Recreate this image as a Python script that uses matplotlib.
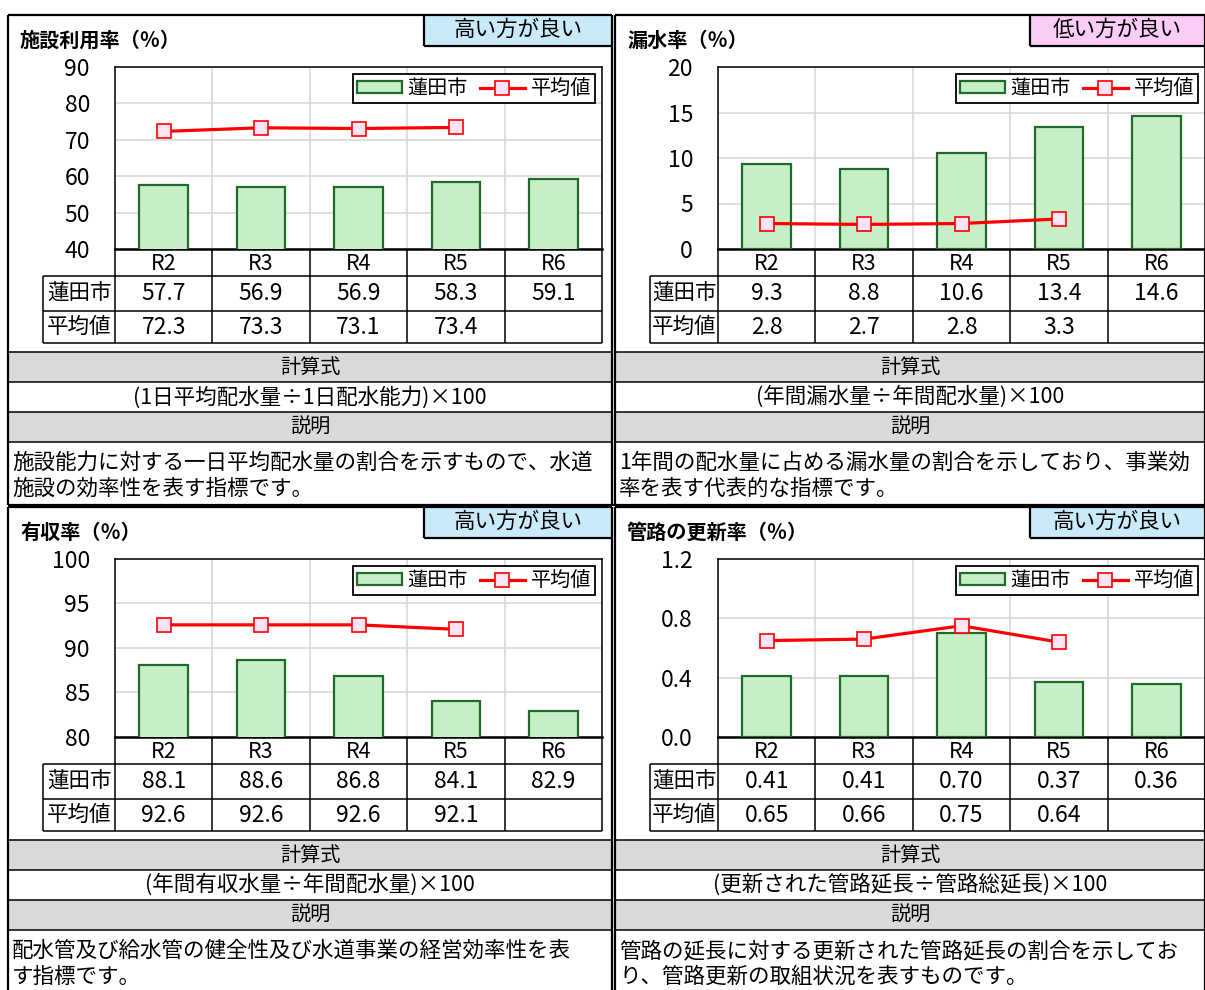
import matplotlib
matplotlib.use('Agg')
import matplotlib.pyplot as plt
from matplotlib import transforms
from matplotlib.patches import Rectangle

plt.rcParams['font.family'] = ['Noto Sans CJK JP', 'DejaVu Sans']

W, H = 1205, 990

YEARS = ['R2', 'R3', 'R4', 'R5', 'R6']
ROW_NAMES = ['蓮田市', '平均値']

RIYOU_CITY = [57.7, 56.9, 56.9, 58.3, 59.1]
RIYOU_AVG = [72.3, 73.3, 73.1, 73.4]
ROUSUI_CITY = [9.3, 8.8, 10.6, 13.4, 14.6]
ROUSUI_AVG = [2.8, 2.7, 2.8, 3.3]
YUSHU_CITY = [88.1, 88.6, 86.8, 84.1, 82.9]
YUSHU_AVG = [92.6, 92.6, 92.6, 92.1]
KOSHIN_CITY = [0.41, 0.41, 0.70, 0.37, 0.36]
KOSHIN_AVG = [0.65, 0.66, 0.75, 0.64]

TITLES = ['施設利用率（％）', '漏水率（％）', '有収率（％）', '管路の更新率（％）']
BADGES = ['高い方が良い', '低い方が良い', '高い方が良い', '高い方が良い']
FORMULAS = ['(1日平均配水量÷1日配水能力)×100',
            '(年間漏水量÷年間配水量)×100',
            '(年間有収水量÷年間配水量)×100',
            '(更新された管路延長÷管路総延長)×100']
NOTES = [['施設能力に対する一日平均配水量の割合を示すもので、水道', '施設の効率性を表す指標です。'],
         ['1年間の配水量に占める漏水量の割合を示しており、事業効', '率を表す代表的な指標です。'],
         ['配水管及び給水管の健全性及び水道事業の経営効率性を表', 'す指標です。'],
         ['管路の延長に対する更新された管路延長の割合を示してお', 'り、管路更新の取組状況を表すものです。']]
YTICKS = [[40, 50, 60, 70, 80, 90], [0, 5, 10, 15, 20],
          [80, 85, 90, 95, 100], [0.0, 0.4, 0.8, 1.2]]
TICK_FMT = ['{:.0f}', '{:.0f}', '{:.0f}', '{:.1f}']
VAL_FMT = ['{:.1f}', '{:.1f}', '{:.1f}', '{:.2f}']
SERIES = [(RIYOU_CITY, RIYOU_AVG), (ROUSUI_CITY, ROUSUI_AVG),
          (YUSHU_CITY, YUSHU_AVG), (KOSHIN_CITY, KOSHIN_AVG)]

BAR_FILL, BAR_EDGE = '#c6efc8', '#1e6b2a'
LINE_RED, MARK_FACE = '#ff0000', '#fde3f6'
GRID, GRAY = '#d9d9d9', '#d9d9d9'
BADGE_COLORS = ['#c9eaf9', '#fbcdf6', '#c9eaf9', '#c9eaf9']

# panel geometry in pixels: border x0/x1, top, bottom, plot x0/x1, plot top/bottom, row header x0, badge x0
LAYOUT = [
    dict(px0=8, px1=612, top=15, bot=505, ax0=115, ax1=602, pt=67, pb=249, hx=43, bx=424),
    dict(px0=615, px1=1205, top=15, bot=505, ax0=718, ax1=1205, pt=67, pb=249, hx=650, bx=1030),
    dict(px0=8, px1=612, top=507, bot=990, ax0=115, ax1=602, pt=559, pb=737, hx=43, bx=424),
    dict(px0=615, px1=1205, top=507, bot=990, ax0=718, ax1=1205, pt=559, pb=737, hx=650, bx=1030),
]

fig = plt.figure(figsize=(W / 100, H / 100), dpi=100)
bg = fig.add_axes([0, 0, 1, 1])
bg.set_xlim(0, W)
bg.set_ylim(H, 0)
bg.axis('off')

LW = 1.1

for i, g in enumerate(LAYOUT):
    px0, px1, top, pb = g['px0'], g['px1'], g['top'], g['pb']

    # panel borders
    bg.hlines(top, px0, px1, color='k', lw=1.6)
    bg.vlines(px0, top, g['bot'], color='k', lw=1.6)
    bg.vlines(px1, top, g['bot'], color='k', lw=1.6)

    # badge
    bg.add_patch(Rectangle((g['bx'], top), px1 - g['bx'], 31, facecolor=BADGE_COLORS[i],
                           edgecolor='none'))
    bg.vlines(g['bx'], top, top + 31, color='k', lw=1.6)
    bg.hlines(top + 31, g['bx'], px1, color='k', lw=1.6)
    bg.text((g['bx'] + px1) / 2, top + 15, BADGES[i], ha='center', va='center', fontsize=15.5)

    # title
    bg.text(px0 + 12, top + 25, TITLES[i], ha='left', va='center', fontsize=14.5,
            fontweight='bold')

    # chart
    ax = fig.add_axes([g['ax0'] / W, 1 - pb / H, (g['ax1'] - g['ax0']) / W, (pb - g['pt']) / H])
    city, avg = SERIES[i]
    bars = ax.bar(range(len(city)), city, width=0.5, color=BAR_FILL, edgecolor=BAR_EDGE,
                  lw=1.6, zorder=3)
    line, = ax.plot(range(len(avg)), avg, color=LINE_RED, lw=2.3, marker='s', ms=10,
                    mfc=MARK_FACE, mec=LINE_RED, mew=1.2, zorder=4)
    yt = YTICKS[i]
    ax.set_xlim(-0.5, len(YEARS) - 0.5)
    ax.set_ylim(yt[0], yt[-1])
    ax.set_yticks(yt)
    ax.set_yticklabels([TICK_FMT[i].format(v) for v in yt])
    ax.set_xticks([])
    ax.set_xticks([k - 0.5 for k in range(len(YEARS) + 1)], minor=True)
    ax.grid(axis='y', color=GRID, lw=1.2, zorder=0)
    ax.grid(axis='x', which='minor', color=GRID, lw=1.2, zorder=0)
    ax.tick_params(axis='y', length=0, pad=18, labelsize=16.5)
    ax.tick_params(axis='x', which='both', length=0)
    for s in ax.spines.values():
        s.set_linewidth(LW)
    ax.spines['bottom'].set_linewidth(1.8)
    leg = ax.legend([bars, line], ROW_NAMES, loc='upper right', ncol=2, fancybox=False,
                    edgecolor='k', framealpha=1, fontsize=14.5, handlelength=2.2,
                    handleheight=0.5, columnspacing=0.6, handletextpad=0.3, borderpad=0.2,
                    borderaxespad=0.35)
    leg.get_frame().set_linewidth(1.3)

    # table below the chart, x from the chart's data scale, y in pixels
    tr = transforms.blended_transform_factory(ax.transData, bg.transData)
    n = len(YEARS)
    rows = [pb, pb + 27, pb + 62, pb + 94]
    for k in range(n + 1):
        bg.vlines(k - 0.5, pb, rows[3], color='k', lw=LW, transform=tr)
    bg.vlines(g['hx'], rows[1], rows[3], color='k', lw=LW)
    for r in rows[1:]:
        bg.hlines(r, g['hx'], g['ax1'], color='k', lw=LW)
    for k, yr in enumerate(YEARS):
        bg.text(k, (rows[0] + rows[1]) / 2 + 1, yr, transform=tr, ha='center', va='center',
                fontsize=15.5)
        bg.text(k, (rows[1] + rows[2]) / 2, VAL_FMT[i].format(city[k]), transform=tr,
                ha='center', va='center', fontsize=16.5)
        if k < len(avg):
            bg.text(k, (rows[2] + rows[3]) / 2, VAL_FMT[i].format(avg[k]), transform=tr,
                    ha='center', va='center', fontsize=16.5)
    for j, name in enumerate(ROW_NAMES):
        bg.text((g['hx'] + g['ax0']) / 2, (rows[j + 1] + rows[j + 2]) / 2, name,
                ha='center', va='center', fontsize=15.5)

    # formula and description blocks
    y0 = pb + 103
    for yy, hh, fill in [(y0, 30, GRAY), (y0 + 30, 30, 'white'), (y0 + 60, 30, GRAY)]:
        bg.add_patch(Rectangle((px0, yy), px1 - px0, hh, facecolor=fill, edgecolor='none'))
    for yy in [y0, y0 + 30, y0 + 60, y0 + 90]:
        bg.hlines(yy, px0, px1, color='k', lw=LW)
    cx = (px0 + px1) / 2
    bg.text(cx, y0 + 15, '計算式', ha='center', va='center', fontsize=14.5)
    bg.text(cx, y0 + 45, FORMULAS[i], ha='center', va='center', fontsize=15.5)
    bg.text(cx, y0 + 75, '説明', ha='center', va='center', fontsize=14.5)
    for j, txt in enumerate(NOTES[i]):
        bg.text(px0 + 4, y0 + 111 + 26 * j, txt, ha='left', va='center', fontsize=15.5)

bg.hlines(505, 8, 1205, color='k', lw=1.6)

fig.savefig('out.png', dpi=100)
